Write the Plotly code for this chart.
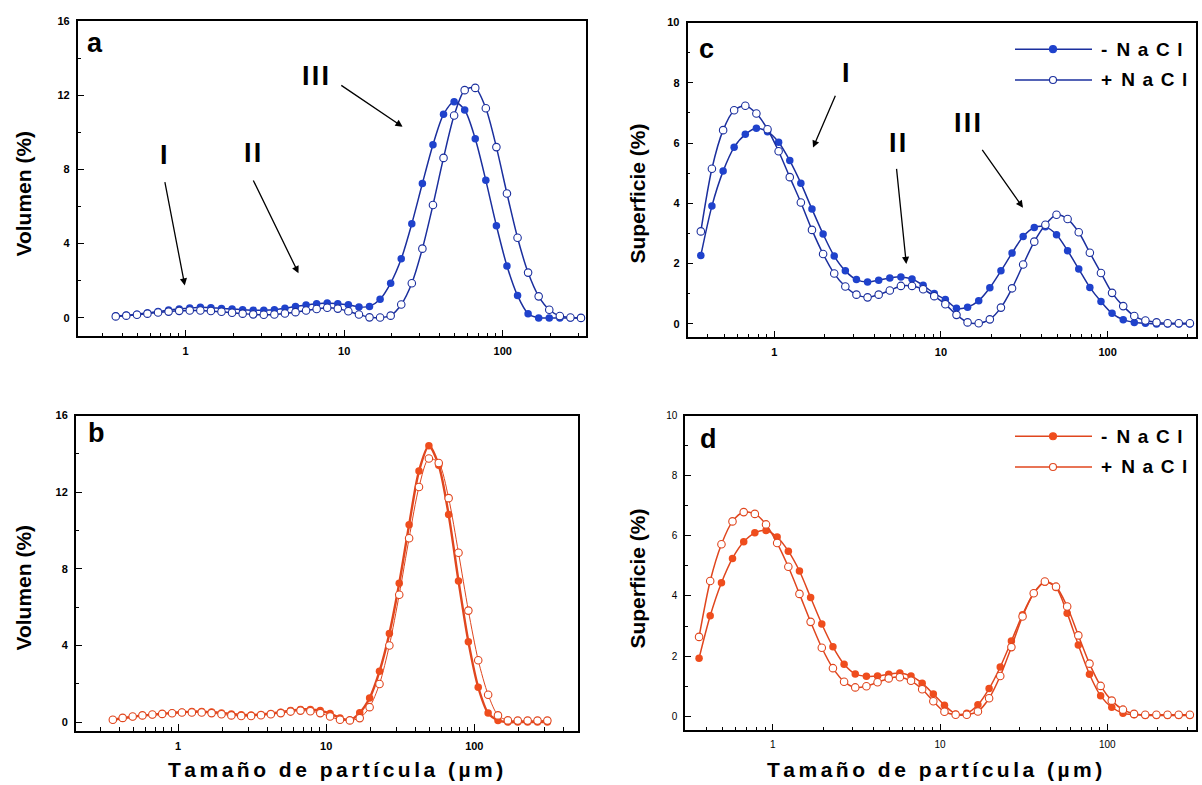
import plotly.graph_objects as go

W, H = 1202, 785

# particle size classes (µm)
size_um = [0.363, 0.423, 0.494, 0.575, 0.671, 0.782, 0.912, 1.063, 1.240, 1.445,
           1.685, 1.965, 2.291, 2.671, 3.114, 3.631, 4.233, 4.936, 5.754, 6.709,
           7.822, 9.120, 10.63, 12.40, 14.45, 16.85, 19.65, 22.91, 26.71, 31.14,
           36.31, 42.33, 49.36, 57.54, 67.09, 78.22, 91.20, 106.3, 124.0, 144.5,
           168.5, 196.5, 229.1, 267.1, 311.4]

# panel a: volume, blue
vol_a_minus = [0.10, 0.14, 0.20, 0.27, 0.34, 0.42, 0.48, 0.53, 0.57, 0.55,
               0.51, 0.48, 0.44, 0.41, 0.41, 0.44, 0.52, 0.62, 0.69, 0.76,
               0.80, 0.76, 0.71, 0.59, 0.62, 1.00, 1.87, 3.18, 5.07, 7.24,
               9.33, 10.97, 11.65, 11.20, 9.65, 7.41, 4.97, 2.80, 1.20, 0.23,
               0.0, 0.0, 0.0, 0.0, 0.0]
vol_a_plus = [0.08, 0.12, 0.17, 0.23, 0.29, 0.34, 0.38, 0.40, 0.40, 0.37,
              0.33, 0.28, 0.23, 0.19, 0.17, 0.18, 0.24, 0.31, 0.40, 0.48,
              0.55, 0.50, 0.36, 0.18, 0.03, 0.02, 0.12, 0.72, 1.87, 3.73,
              6.08, 8.62, 10.90, 12.27, 12.39, 11.29, 9.20, 6.70, 4.32, 2.44,
              1.16, 0.44, 0.10, 0.02, 0.00]

# panel b: volume, red
vol_b_minus = [0.12, 0.20, 0.28, 0.34, 0.39, 0.43, 0.48, 0.52, 0.55, 0.55,
               0.53, 0.48, 0.43, 0.38, 0.37, 0.40, 0.45, 0.52, 0.60, 0.66,
               0.66, 0.60, 0.45, 0.22, 0.10, 0.49, 1.26, 2.65, 4.63, 7.25,
               10.30, 13.10, 14.42, 13.40, 10.83, 7.37, 4.20, 1.82, 0.47, 0.09,
               0.0, 0.0, 0.0, 0.0, 0.0]
vol_b_plus = [0.12, 0.22, 0.29, 0.35, 0.40, 0.43, 0.46, 0.50, 0.50, 0.50,
              0.47, 0.41, 0.35, 0.32, 0.32, 0.36, 0.41, 0.47, 0.55, 0.60,
              0.57, 0.47, 0.29, 0.12, 0.09, 0.21, 0.78, 1.99, 4.00, 6.65,
              9.60, 12.27, 13.76, 13.52, 11.69, 8.84, 5.82, 3.23, 1.43, 0.35,
              0.09, 0.08, 0.08, 0.08, 0.08]

# panel c: surface, blue
sup_c_minus = [2.27, 3.91, 5.07, 5.86, 6.29, 6.49, 6.38, 6.03, 5.42, 4.67,
               3.81, 2.98, 2.25, 1.76, 1.47, 1.39, 1.45, 1.52, 1.56, 1.49,
               1.28, 1.01, 0.81, 0.52, 0.55, 0.77, 1.20, 1.76, 2.35, 2.90,
               3.20, 3.22, 2.96, 2.43, 1.82, 1.21, 0.74, 0.35, 0.14, 0.05,
               0.02, 0.0, 0.0, 0.0, 0.0]
sup_c_plus = [3.07, 5.15, 6.43, 7.09, 7.24, 6.98, 6.46, 5.73, 4.87, 4.03,
              3.12, 2.32, 1.67, 1.24, 0.97, 0.88, 0.97, 1.11, 1.26, 1.26,
              1.15, 0.92, 0.65, 0.30, 0.05, 0.02, 0.15, 0.54, 1.18, 1.97,
              2.73, 3.29, 3.62, 3.48, 3.04, 2.36, 1.69, 1.03, 0.59, 0.26,
              0.11, 0.05, 0.02, 0.02, 0.02]

# panel d: surface, red
sup_d_minus = [1.93, 3.34, 4.44, 5.25, 5.80, 6.10, 6.18, 5.96, 5.49, 4.83,
               3.95, 3.07, 2.31, 1.73, 1.41, 1.33, 1.34, 1.40, 1.44, 1.34,
               1.10, 0.74, 0.37, 0.08, 0.10, 0.38, 0.92, 1.64, 2.50, 3.38,
               4.09, 4.46, 4.28, 3.43, 2.37, 1.40, 0.68, 0.30, 0.10, 0.05,
               0.03, 0.03, 0.03, 0.03, 0.03]
sup_d_plus = [2.64, 4.50, 5.72, 6.48, 6.79, 6.73, 6.38, 5.76, 4.97, 4.07,
              3.14, 2.28, 1.60, 1.15, 0.96, 1.00, 1.13, 1.26, 1.30, 1.18,
              0.90, 0.50, 0.15, 0.05, 0.05, 0.16, 0.60, 1.34, 2.30, 3.32,
              4.09, 4.48, 4.31, 3.65, 2.69, 1.75, 1.01, 0.52, 0.22, 0.08,
              0.05, 0.05, 0.05, 0.05, 0.05]

series_names = ["- NaCl", "+ NaCl"]
x_tick_vals = [1, 10, 100]
x_tick_text = ["1", "10", "100"]

BLUE_LINE = "#1b2f9e"
BLUE_MK = "#1f42cc"
RED_LINE = "#e0461e"
RED_MK = "#ef4d1d"
FONT = "Liberation Sans, Arial, Helvetica, sans-serif"


def px(x):
    return x / W


def py(y):
    return 1 - y / H


def spaced(s, sep="\u2006"):
    return sep.join(list(s))


minor_x = [m * 10 ** e for e in range(-1, 3) for m in range(2, 10)]

panels = [
    dict(key="a", xa="x", ya="y", xd=(77.7, 586), yd=(15, 333), xr=[-0.68, 2.525],
         yr=[-1, 16], ydt=4, ymn=2, minus=vol_a_minus, plus=vol_a_plus,
         lc=BLUE_LINE, mc=BLUE_MK, lw_minus=1.5, lw_plus=1.5, bold=True, tfs=11),
    dict(key="c", xa="x2", ya="y2", xd=(687.5, 1196), yd=(16.7, 334), xr=[-0.52, 2.53],
         yr=[-0.45, 10], ydt=2, ymn=1, minus=sup_c_minus, plus=sup_c_plus,
         lc=BLUE_LINE, mc=BLUE_MK, lw_minus=1.5, lw_plus=1.5, bold=True, tfs=11),
    dict(key="b", xa="x3", ya="y3", xd=(75.8, 578), yd=(412.7, 730.7), xr=[-0.69, 2.70],
         yr=[-0.47, 16], ydt=4, ymn=2, minus=vol_b_minus, plus=vol_b_plus,
         lc=RED_LINE, mc=RED_MK, lw_minus=2.4, lw_plus=1.0, bold=True, tfs=11),
    dict(key="d", xa="x4", ya="y4", xd=(685.2, 1196), yd=(412.7, 730), xr=[-0.523, 2.53],
         yr=[-0.47, 10], ydt=2, ymn=1, minus=sup_d_minus, plus=sup_d_plus,
         lc=RED_LINE, mc=RED_MK, lw_minus=1.5, lw_plus=1.5, bold=False, tfs=10),
]

fig = go.Figure()
layout = dict(width=W, height=H, margin=dict(l=0, r=0, t=0, b=0),
              paper_bgcolor="white", plot_bgcolor="white", showlegend=False)

for p in panels:
    fig.add_trace(go.Scatter(
        x=size_um, y=p["minus"], xaxis=p["xa"], yaxis=p["ya"], name=series_names[0],
        mode="lines+markers", line=dict(color=p["lc"], width=p["lw_minus"], shape="spline", smoothing=0.8),
        marker=dict(symbol="circle", size=7.5, color=p["mc"], line=dict(width=0))))
    fig.add_trace(go.Scatter(
        x=size_um, y=p["plus"], xaxis=p["xa"], yaxis=p["ya"], name=series_names[1],
        mode="lines+markers", line=dict(color=p["lc"], width=p["lw_plus"], shape="spline", smoothing=0.8),
        marker=dict(symbol="circle", size=7.5, color="white", line=dict(width=1.1, color=p["lc"]))))

    tf = dict(family=FONT, size=p["tfs"], color="black", weight="bold" if p["bold"] else "normal")
    xname = "xaxis" if p["xa"] == "x" else "xaxis" + p["xa"][1:]
    yname = "yaxis" if p["ya"] == "y" else "yaxis" + p["ya"][1:]
    layout[xname] = dict(
        type="log", range=p["xr"], domain=[px(p["xd"][0]), px(p["xd"][1])], anchor=p["ya"],
        showline=True, mirror=True, linecolor="black", linewidth=1.6,
        ticks="inside", ticklen=7, tickwidth=1.3, tickcolor="black",
        tickmode="array", tickvals=x_tick_vals, ticktext=x_tick_text, tickfont=tf,
        ticklabelstandoff=4,
        showgrid=False, zeroline=False,
        minor=dict(tickmode="array", tickvals=minor_x, ticks="inside", ticklen=4,
                   tickwidth=1, tickcolor="black", showgrid=False))
    layout[yname] = dict(
        range=p["yr"], domain=[py(p["yd"][1]), py(p["yd"][0])], anchor=p["xa"],
        showline=True, mirror=True, linecolor="black", linewidth=1.6,
        ticks="inside", ticklen=6, tickwidth=1.3, tickcolor="black",
        tick0=0, dtick=p["ydt"], tickfont=tf, showgrid=False, zeroline=False,
        ticklabelstandoff=4,
        minor=dict(dtick=p["ymn"], tick0=0, ticks="inside", ticklen=3, tickwidth=1,
                   tickcolor="black", showgrid=False))

fig.update_layout(**layout)

ann = []
shapes = []


def text(x, y, s, size, bold=True, angle=0, xanchor="center"):
    ann.append(dict(x=px(x), y=py(y), xref="paper", yref="paper", text=s, showarrow=False,
                    xanchor=xanchor, yanchor="middle", textangle=angle,
                    font=dict(family=FONT, size=size, color="black",
                              weight="bold" if bold else "normal")))


def arrow(tx, ty, hx, hy):
    ann.append(dict(x=px(hx), y=py(hy), xref="paper", yref="paper", text="",
                    showarrow=True, ax=tx - hx, ay=ty - hy, axref="pixel", ayref="pixel",
                    arrowhead=2, arrowsize=1.1, arrowwidth=1.3, arrowcolor="black", standoff=0))


# panel letters
text(95, 37, "a", 27)
text(706, 43, "c", 27)
text(96, 430, "b", 27)
text(708, 436, "d", 27)

# roman numerals and arrows (panel a)
text(164, 150, "I", 27)
text(252, 148, spaced("II", "\u200a"), 27)
text(315, 71, spaced("III", "\u200a"), 27)
arrow(164.6, 176.7, 184.8, 281.7)
arrow(252.6, 175, 298.5, 269.3)
arrow(339.8, 79.3, 402.6, 121.7)
# panel c
text(846, 68, "I", 27)
text(897, 138, spaced("II", "\u200a"), 27)
text(968, 118, spaced("III", "\u200a"), 27)
arrow(836, 89.3, 813, 142.7)
arrow(896.4, 163.3, 906.3, 260)
arrow(981.2, 144, 1023, 203.3)

# axis titles
text(24, 189, "Volumen (%)", 21, angle=-90)
text(24, 586, "Volumen (%)", 21, angle=-90)
text(638, 189, "Superficie (%)", 21, angle=-90)
text(638, 577, "Superficie (%)", 21, angle=-90)
xt = "Tamaño de partícula (µm)"
text(336, 769, spaced(xt), 21)
text(934, 769, spaced(xt), 21)


# legends (panels c and d)
def legend_row(y, filled, lc, mc, label):
    shapes.append(dict(type="line", xref="paper", yref="paper", x0=px(1015), x1=px(1092),
                       y0=py(y), y1=py(y), line=dict(color=lc, width=1.5)))
    shapes.append(dict(type="circle", xref="paper", yref="paper", xsizemode="pixel",
                       ysizemode="pixel", xanchor=px(1053), yanchor=py(y),
                       x0=-3.5, x1=3.5, y0=-3.5, y1=3.5,
                       fillcolor=mc if filled else "white",
                       line=dict(color=lc if not filled else mc, width=1.1)))
    text(1099, y, label, 19, xanchor="left")


lbl_minus = "-\u2009 " + spaced("NaCl", "\u2009\u2009")
lbl_plus = "+\u2009 " + spaced("NaCl", "\u2009\u2009")
legend_row(43.5, True, BLUE_LINE, BLUE_MK, lbl_minus)
legend_row(74.5, False, BLUE_LINE, BLUE_MK, lbl_plus)
legend_row(433.5, True, RED_LINE, RED_MK, lbl_minus)
legend_row(464.5, False, RED_LINE, RED_MK, lbl_plus)

fig.update_layout(annotations=ann, shapes=shapes)
fig.write_html("out.html", config={"displayModeBar": False},
               post_script="document.body.style.margin='0';document.body.style.overflow='hidden';")
